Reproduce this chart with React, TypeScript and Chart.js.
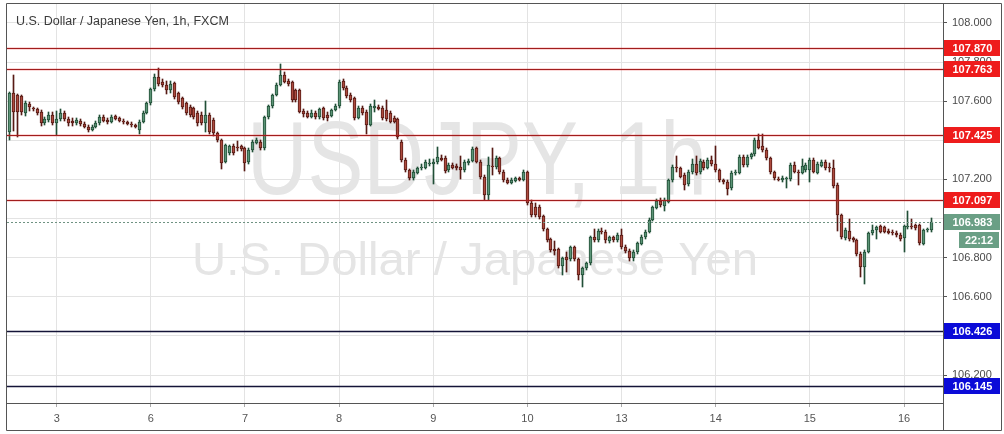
import React, { useEffect, useRef } from "react";
import { Chart, registerables } from "chart.js";
Chart.register(...registerables);

type Candle = [number, number, number, number]; // open, high, low, close

const day2: Candle[] = [
  [107.444, 107.645, 107.402, 107.640], [107.640, 107.729, 107.448, 107.547], [107.630, 107.635, 107.420, 107.547],
  [107.625, 107.630, 107.530, 107.547], [107.538, 107.600, 107.525, 107.589], [107.585, 107.592, 107.550, 107.570],
  [107.565, 107.570, 107.552, 107.560], [107.560, 107.565, 107.530, 107.538], [107.547, 107.552, 107.478, 107.490],
  [107.490, 107.515, 107.482, 107.508], [107.505, 107.540, 107.495, 107.527], [107.530, 107.540, 107.480, 107.490],
];
const day3: Candle[] = [
  [107.490, 107.545, 107.432, 107.508], [107.508, 107.560, 107.500, 107.540], [107.540, 107.548, 107.500, 107.508],
  [107.508, 107.515, 107.475, 107.490], [107.500, 107.510, 107.478, 107.488], [107.488, 107.512, 107.482, 107.505],
  [107.500, 107.505, 107.475, 107.484], [107.484, 107.490, 107.465, 107.470], [107.470, 107.475, 107.445, 107.455],
  [107.455, 107.475, 107.448, 107.470], [107.470, 107.495, 107.465, 107.490], [107.490, 107.525, 107.480, 107.520],
  [107.520, 107.528, 107.495, 107.500], [107.505, 107.510, 107.488, 107.495], [107.495, 107.525, 107.490, 107.520],
  [107.522, 107.528, 107.505, 107.510], [107.512, 107.518, 107.495, 107.500], [107.500, 107.505, 107.488, 107.492],
  [107.492, 107.497, 107.480, 107.485], [107.485, 107.490, 107.472, 107.478], [107.478, 107.482, 107.465, 107.470],
  [107.455, 107.500, 107.437, 107.495], [107.495, 107.545, 107.490, 107.540], [107.540, 107.595, 107.535, 107.589],
];
const day6: Candle[] = [
  [107.589, 107.665, 107.585, 107.660], [107.660, 107.735, 107.655, 107.725], [107.725, 107.768, 107.680, 107.690],
  [107.700, 107.712, 107.675, 107.683], [107.683, 107.700, 107.640, 107.655], [107.655, 107.700, 107.645, 107.690],
  [107.692, 107.697, 107.615, 107.623], [107.640, 107.645, 107.590, 107.598], [107.615, 107.620, 107.565, 107.572],
  [107.589, 107.595, 107.530, 107.540], [107.572, 107.580, 107.520, 107.530], [107.564, 107.570, 107.510, 107.521],
  [107.538, 107.545, 107.475, 107.487], [107.530, 107.540, 107.480, 107.487], [107.487, 107.598, 107.444, 107.530],
  [107.530, 107.535, 107.436, 107.444], [107.504, 107.510, 107.425, 107.436], [107.436, 107.440, 107.395, 107.402],
  [107.402, 107.405, 107.257, 107.283], [107.291, 107.380, 107.285, 107.376], [107.334, 107.375, 107.328, 107.371],
  [107.371, 107.380, 107.330, 107.337], [107.364, 107.392, 107.350, 107.362], [107.371, 107.376, 107.348, 107.354],
];
const day7: Candle[] = [
  [107.359, 107.362, 107.248, 107.283], [107.291, 107.356, 107.280, 107.351], [107.351, 107.398, 107.345, 107.393],
  [107.388, 107.410, 107.383, 107.402], [107.393, 107.398, 107.355, 107.359], [107.359, 107.522, 107.352, 107.518],
  [107.518, 107.580, 107.512, 107.576], [107.576, 107.636, 107.570, 107.632], [107.632, 107.688, 107.628, 107.683],
  [107.683, 107.790, 107.678, 107.734], [107.734, 107.745, 107.695, 107.700], [107.705, 107.712, 107.680, 107.688],
  [107.696, 107.700, 107.600, 107.606], [107.657, 107.662, 107.598, 107.606], [107.657, 107.662, 107.540, 107.547],
  [107.552, 107.560, 107.520, 107.535], [107.538, 107.545, 107.515, 107.521], [107.521, 107.550, 107.515, 107.542],
  [107.542, 107.548, 107.510, 107.518], [107.518, 107.565, 107.512, 107.559], [107.564, 107.570, 107.505, 107.516],
  [107.530, 107.540, 107.500, 107.513], [107.526, 107.560, 107.520, 107.555], [107.555, 107.582, 107.550, 107.577],
];
const day8: Candle[] = [
  [107.577, 107.705, 107.570, 107.700], [107.703, 107.710, 107.660, 107.666], [107.669, 107.675, 107.620, 107.628],
  [107.632, 107.640, 107.598, 107.606], [107.615, 107.620, 107.505, 107.516], [107.516, 107.572, 107.510, 107.567],
  [107.567, 107.575, 107.530, 107.538], [107.547, 107.552, 107.436, 107.479], [107.479, 107.582, 107.475, 107.577],
  [107.567, 107.601, 107.547, 107.577], [107.572, 107.580, 107.555, 107.560], [107.567, 107.575, 107.505, 107.513],
  [107.555, 107.601, 107.500, 107.508], [107.538, 107.545, 107.490, 107.496], [107.513, 107.520, 107.490, 107.496],
  [107.508, 107.513, 107.410, 107.419], [107.393, 107.400, 107.290, 107.300], [107.300, 107.305, 107.240, 107.248],
  [107.248, 107.252, 107.200, 107.206], [107.206, 107.245, 107.200, 107.240], [107.232, 107.262, 107.228, 107.257],
  [107.257, 107.275, 107.250, 107.265], [107.260, 107.295, 107.255, 107.288], [107.283, 107.300, 107.270, 107.285],
];
const day9: Candle[] = [
  [107.278, 107.300, 107.180, 107.291], [107.288, 107.362, 107.280, 107.316], [107.311, 107.320, 107.295, 107.300],
  [107.308, 107.315, 107.235, 107.243], [107.248, 107.280, 107.240, 107.274], [107.274, 107.280, 107.255, 107.260],
  [107.271, 107.278, 107.250, 107.257], [107.265, 107.316, 107.206, 107.248], [107.248, 107.295, 107.240, 107.288],
  [107.283, 107.300, 107.278, 107.294], [107.294, 107.362, 107.290, 107.356], [107.359, 107.365, 107.285, 107.291],
  [107.291, 107.296, 107.205, 107.214], [107.214, 107.220, 107.095, 107.121], [107.121, 107.313, 107.095, 107.274],
  [107.268, 107.359, 107.223, 107.266], [107.262, 107.315, 107.255, 107.308], [107.308, 107.313, 107.232, 107.240],
  [107.240, 107.245, 107.190, 107.198], [107.198, 107.205, 107.178, 107.184], [107.184, 107.205, 107.178, 107.198],
  [107.194, 107.212, 107.188, 107.206], [107.206, 107.212, 107.192, 107.198], [107.198, 107.245, 107.192, 107.240],
];
const day10: Candle[] = [
  [107.237, 107.242, 107.070, 107.078], [107.078, 107.090, 107.010, 107.018], [107.061, 107.075, 107.010, 107.018],
  [107.061, 107.065, 107.000, 107.010], [107.013, 107.018, 106.938, 106.945], [106.945, 106.950, 106.885, 106.891],
  [106.894, 106.898, 106.832, 106.840], [106.843, 106.884, 106.814, 106.832], [106.843, 106.848, 106.750, 106.758],
  [106.758, 106.802, 106.712, 106.797], [106.802, 106.824, 106.729, 106.788], [106.792, 106.858, 106.785, 106.853],
  [106.853, 106.858, 106.785, 106.792], [106.792, 106.797, 106.687, 106.712], [106.712, 106.750, 106.652, 106.746],
  [106.746, 106.776, 106.740, 106.771], [106.771, 106.910, 106.765, 106.904], [106.904, 106.945, 106.885, 106.891],
  [106.891, 106.945, 106.885, 106.938], [106.938, 106.950, 106.925, 106.931], [106.933, 106.940, 106.880, 106.888],
  [106.885, 106.910, 106.878, 106.904], [106.904, 106.910, 106.885, 106.891], [106.891, 106.922, 106.885, 106.916],
];
const day13: Candle[] = [
  [106.916, 106.945, 106.845, 106.853], [106.853, 106.860, 106.825, 106.832], [106.832, 106.840, 106.788, 106.797],
  [106.797, 106.836, 106.785, 106.831], [106.828, 106.880, 106.822, 106.874], [106.870, 106.912, 106.865, 106.907],
  [106.907, 106.938, 106.900, 106.933], [106.933, 106.998, 106.928, 106.993], [106.993, 107.063, 106.988, 107.058],
  [107.056, 107.095, 107.050, 107.090], [107.090, 107.100, 107.060, 107.070], [107.066, 107.100, 107.039, 107.095],
  [107.086, 107.202, 107.080, 107.197], [107.197, 107.270, 107.190, 107.265], [107.262, 107.317, 107.240, 107.260],
  [107.257, 107.262, 107.208, 107.214], [107.223, 107.228, 107.150, 107.172], [107.175, 107.245, 107.168, 107.240],
  [107.237, 107.300, 107.232, 107.278], [107.278, 107.317, 107.226, 107.232], [107.237, 107.300, 107.230, 107.294],
  [107.291, 107.296, 107.250, 107.257], [107.260, 107.305, 107.255, 107.300], [107.300, 107.318, 107.272, 107.278],
];
const day14: Candle[] = [
  [107.278, 107.368, 107.242, 107.248], [107.248, 107.252, 107.190, 107.197], [107.197, 107.202, 107.178, 107.186],
  [107.186, 107.192, 107.121, 107.151], [107.155, 107.240, 107.148, 107.235], [107.232, 107.246, 107.226, 107.240],
  [107.232, 107.322, 107.228, 107.317], [107.317, 107.322, 107.268, 107.274], [107.274, 107.322, 107.268, 107.317],
  [107.313, 107.335, 107.308, 107.329], [107.329, 107.408, 107.324, 107.402], [107.402, 107.431, 107.358, 107.363],
  [107.373, 107.431, 107.345, 107.351], [107.351, 107.356, 107.300, 107.308], [107.308, 107.313, 107.230, 107.237],
  [107.237, 107.242, 107.200, 107.206], [107.202, 107.208, 107.192, 107.197], [107.197, 107.214, 107.190, 107.209],
  [107.201, 107.212, 107.160, 107.206], [107.201, 107.280, 107.196, 107.274], [107.274, 107.286, 107.235, 107.240],
  [107.240, 107.245, 107.172, 107.232], [107.235, 107.300, 107.230, 107.269], [107.248, 107.280, 107.240, 107.274],
];
const day15: Candle[] = [
  [107.248, 107.305, 107.189, 107.300], [107.300, 107.305, 107.235, 107.240], [107.235, 107.285, 107.230, 107.279],
  [107.269, 107.296, 107.265, 107.291], [107.291, 107.296, 107.250, 107.257], [107.262, 107.283, 107.240, 107.258],
  [107.257, 107.296, 107.160, 107.167], [107.172, 107.178, 106.941, 107.018], [107.018, 107.022, 106.898, 106.904],
  [106.899, 106.950, 106.894, 106.941], [106.938, 106.993, 106.888, 106.894], [106.899, 106.905, 106.882, 106.888],
  [106.890, 106.895, 106.812, 106.819], [106.819, 106.825, 106.703, 106.751], [106.751, 106.836, 106.669, 106.831],
  [106.831, 106.930, 106.825, 106.925], [106.925, 106.967, 106.920, 106.941], [106.941, 106.960, 106.899, 106.955],
  [106.962, 106.967, 106.928, 106.933], [106.955, 106.960, 106.928, 106.933], [106.936, 106.942, 106.922, 106.928],
  [106.933, 106.938, 106.918, 106.925], [106.928, 106.933, 106.910, 106.916], [106.916, 106.922, 106.888, 106.894],
];
const day16: Candle[] = [
  [106.899, 106.967, 106.831, 106.962], [106.957, 107.035, 106.950, 106.960], [106.960, 106.993, 106.950, 106.957],
  [106.967, 106.972, 106.945, 106.950], [106.967, 106.972, 106.868, 106.874], [106.871, 106.946, 106.865, 106.941],
  [106.941, 106.950, 106.936, 106.945], [106.941, 107.001, 106.933, 106.983],
];

const days: Candle[][] = [day2, day3, day6, day7, day8, day9, day10, day13, day14, day15, day16];
const dayLabels = ["3", "6", "7", "8", "9", "10", "13", "14", "15", "16"];
const yTickValues = [106.2, 106.4, 106.6, 106.8, 107.0, 107.2, 107.4, 107.6, 107.8, 108.0];
const hiddenTickValues = [107.4, 107.0, 106.4];
const redLevels = [107.870, 107.763, 107.425, 107.097];
const blueLevels = [106.426, 106.145];
const lastPrice = 106.983;
const countdown = "22:12";
const titleText = "U.S. Dollar / Japanese Yen, 1h, FXCM";
const watermarkMain = "USDJPY, 1h";
const watermarkSub = "U.S. Dollar / Japanese Yen";

const candles: Candle[] = days.flat();
const dayStarts: number[] = [];
{
  let acc = 0;
  days.forEach((d, k) => {
    if (k > 0) dayStarts.push(acc);
    acc += d.length;
  });
}

const FONT = '"Liberation Sans", Arial, sans-serif';
const UP_BODY = "#5c9477";
const UP_BORDER = "#214f37";
const DOWN_BODY = "#ad4b3f";
const DOWN_BORDER = "#571a14";
const GRID = "#e3e3e3";
const FRAME = "#555555";

const isUp = (i: number) => candles[i][3] >= candles[i][0];

function drawFittedText(ctx: CanvasRenderingContext2D, text: string, cx: number, baseline: number, capH: number, width: number, color: string) {
  ctx.save();
  const size = capH / 0.716;
  ctx.font = `${size}px ${FONT}`;
  const w = ctx.measureText(text).width;
  ctx.translate(cx, baseline);
  ctx.scale(width / w, 1);
  ctx.textAlign = "center";
  ctx.textBaseline = "alphabetic";
  ctx.fillStyle = color;
  ctx.fillText(text, 0, 0);
  ctx.restore();
}

function axisBox(ctx: CanvasRenderingContext2D, x: number, y: number, w: number, text: string, color: string, center = false) {
  ctx.save();
  ctx.fillStyle = color;
  ctx.fillRect(x, Math.round(y) - 8, w, 16);
  ctx.fillStyle = "#ffffff";
  ctx.font = `bold 11px ${FONT}`;
  ctx.textBaseline = "middle";
  if (center) {
    ctx.textAlign = "center";
    ctx.fillText(text, x + w / 2, Math.round(y) + 0.5);
  } else {
    ctx.textAlign = "left";
    ctx.fillText(text, 952.5, Math.round(y) + 0.5);
  }
  ctx.restore();
}

const snapPlugin = {
  id: "snap",
  afterDatasetsUpdate(chart: any) {
    chart.data.datasets.forEach((_: any, di: number) => {
      const meta = chart.getDatasetMeta(di);
      meta.data.forEach((el: any) => {
        el.x = Math.floor(el.x) + 0.5;
        const lo = Math.min(el.y, el.base);
        const hi = Math.max(el.y, el.base);
        let top: number, bottom: number;
        if (di === 0) {
          top = Math.round(lo);
          bottom = Math.round(hi);
        } else {
          top = Math.floor(lo);
          bottom = Math.ceil(hi);
        }
        if (bottom - top < 1) bottom = top + 1;
        el.y = top;
        el.base = bottom;
      });
    });
  },
};

const overlayPlugin = {
  id: "overlay",
  beforeDatasetsDraw(chart: any) {
    const { ctx, chartArea } = chart;
    ctx.save();
    ctx.beginPath();
    ctx.rect(chartArea.left, chartArea.top, chartArea.right - chartArea.left, chartArea.bottom - chartArea.top);
    ctx.clip();
    drawFittedText(ctx, watermarkMain, 477, 194, 74, 460, "#e5e5e5");
    drawFittedText(ctx, watermarkSub, 475, 275, 33.5, 566, "#e5e5e5");
    ctx.restore();
  },
  afterDatasetsDraw(chart: any) {
    const { ctx, chartArea, scales } = chart;
    const y = scales.y;
    ctx.save();
    const yl = Math.round(y.getPixelForValue(lastPrice)) + 0.5;
    ctx.strokeStyle = "#6f9282";
    ctx.lineWidth = 1;
    ctx.setLineDash([2, 2]);
    ctx.beginPath();
    ctx.moveTo(chartArea.left, yl);
    ctx.lineTo(chartArea.right, yl);
    ctx.stroke();
    ctx.setLineDash([]);
    redLevels.forEach((v) => {
      const py = Math.round(y.getPixelForValue(v)) + 0.5;
      ctx.strokeStyle = "rgba(235,40,40,0.18)";
      ctx.lineWidth = 3;
      ctx.beginPath();
      ctx.moveTo(chartArea.left, py);
      ctx.lineTo(chartArea.right, py);
      ctx.stroke();
      ctx.strokeStyle = "#a11d1d";
      ctx.lineWidth = 1;
      ctx.beginPath();
      ctx.moveTo(chartArea.left, py);
      ctx.lineTo(chartArea.right, py);
      ctx.stroke();
    });
    blueLevels.forEach((v) => {
      const py = Math.round(y.getPixelForValue(v)) + 0.5;
      ctx.strokeStyle = "#141438";
      ctx.lineWidth = 1.4;
      ctx.beginPath();
      ctx.moveTo(chartArea.left, py);
      ctx.lineTo(chartArea.right, py);
      ctx.stroke();
    });
    ctx.restore();
  },
  afterDraw(chart: any) {
    const { ctx, chartArea, scales } = chart;
    const y = scales.y;
    ctx.save();
    ctx.strokeStyle = FRAME;
    ctx.lineWidth = 1;
    ctx.beginPath();
    ctx.moveTo(6.5, 3.5); ctx.lineTo(1001.5, 3.5);
    ctx.moveTo(6.5, 3.5); ctx.lineTo(6.5, 430.5);
    ctx.moveTo(6.5, 430.5); ctx.lineTo(1001.5, 430.5);
    ctx.moveTo(1001.5, 3.5); ctx.lineTo(1001.5, 430.5);
    ctx.moveTo(chartArea.right + 0.5, 3.5); ctx.lineTo(chartArea.right + 0.5, 430.5);
    ctx.moveTo(6.5, chartArea.bottom + 0.5); ctx.lineTo(chartArea.right + 0.5, chartArea.bottom + 0.5);
    ctx.stroke();
    ctx.fillStyle = "#3a3a3a";
    ctx.font = `12.5px ${FONT}`;
    ctx.textAlign = "left";
    ctx.textBaseline = "alphabetic";
    ctx.fillText(titleText, 16, 25);
    ctx.restore();
    const bx = chartArea.right + 1;
    const bw = 1000 - bx;
    redLevels.forEach((v) => axisBox(ctx, bx, y.getPixelForValue(v), bw, v.toFixed(3), "#ee1c1c"));
    axisBox(ctx, bx, y.getPixelForValue(lastPrice), bw, lastPrice.toFixed(3), "#6a9f85");
    axisBox(ctx, 959, y.getPixelForValue(lastPrice) + 18, 40, countdown, "#6a9f85", true);
    blueLevels.forEach((v) => axisBox(ctx, bx, y.getPixelForValue(v), bw, v.toFixed(3), "#0b0bd8"));
  },
};

export default function App() {
  const ref = useRef<HTMLCanvasElement>(null);
  useEffect(() => {
    const bodies = candles.map((c, i) => ({ x: i, y: [c[0], c[3]] }));
    const wicks = candles.map((c, i) => ({ x: i, y: [c[2], c[1]] }));
    const chart = new Chart(ref.current as HTMLCanvasElement, {
      type: "bar",
      data: {
        datasets: [
          {
            label: "body",
            data: bodies as any,
            backgroundColor: (c: any) => (isUp(c.dataIndex) ? UP_BODY : DOWN_BODY),
            borderColor: (c: any) => (isUp(c.dataIndex) ? UP_BORDER : DOWN_BORDER),
            borderWidth: 1,
            borderSkipped: false,
            barThickness: 3,
            grouped: false,
          } as any,
          {
            label: "wick",
            data: wicks as any,
            backgroundColor: (c: any) => (isUp(c.dataIndex) ? UP_BORDER : DOWN_BORDER),
            borderWidth: 0,
            barThickness: 1,
            grouped: false,
          } as any,
        ],
      },
      options: {
        animation: false,
        responsive: false,
        devicePixelRatio: 1,
        layout: { padding: { left: 7, top: 3, right: 0, bottom: 0 } },
        plugins: { legend: { display: false }, tooltip: { enabled: false }, title: { display: false } },
        scales: {
          x: {
            type: "linear",
            offset: false,
            min: -0.67,
            max: 237.94,
            grid: { offset: false, color: GRID, tickLength: 4, tickColor: "#aaaaaa", drawOnChartArea: true },
            border: { display: false },
            afterBuildTicks: (scale: any) => {
              scale.ticks = dayStarts.map((v) => ({ value: v }));
            },
            afterFit: (scale: any) => {
              scale.height = 31;
              scale.paddingLeft = 0;
              scale.paddingRight = 0;
              scale.paddingTop = 0;
              scale.paddingBottom = 0;
            },
            ticks: {
              autoSkip: false,
              maxRotation: 0,
              padding: 5,
              color: "#555555",
              font: { family: FONT, size: 11 },
              callback: (value: any) => {
                const k = dayStarts.indexOf(Number(value));
                return k >= 0 ? dayLabels[k] : "";
              },
            },
          } as any,
          y: {
            type: "linear",
            position: "right",
            min: 106.057,
            max: 108.102,
            beginAtZero: false,
            grid: { color: GRID, tickLength: 4, tickColor: "#555555" },
            border: { display: false },
            afterBuildTicks: (scale: any) => {
              scale.ticks = yTickValues.map((v) => ({ value: v }));
            },
            afterFit: (scale: any) => {
              scale.width = 61;
              scale.paddingTop = 0;
              scale.paddingBottom = 0;
              scale.paddingLeft = 0;
              scale.paddingRight = 0;
            },
            ticks: {
              padding: 5,
              color: "#4a4a4a",
              font: { family: FONT, size: 11 },
              callback: (value: any) => {
                const v = Number(value);
                if (hiddenTickValues.some((h) => Math.abs(h - v) < 1e-6)) return "";
                return v.toFixed(3);
              },
            },
          } as any,
        },
      },
      plugins: [snapPlugin, overlayPlugin],
    } as any);
    return () => chart.destroy();
  }, []);
  return (
    <div style={{ position: "absolute", left: 0, top: 0, width: 1004, height: 434, background: "#ffffff" }}>
      <canvas ref={ref} width={1004} height={434} style={{ display: "block", width: 1004, height: 434 }} />
    </div>
  );
}
